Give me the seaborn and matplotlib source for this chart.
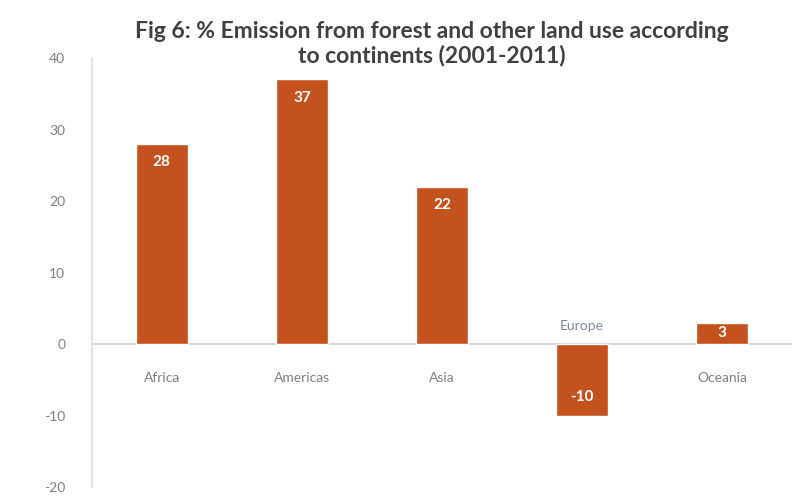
import numpy as np
import pandas as pd
import matplotlib
matplotlib.use('Agg')
import matplotlib.pyplot as plt
import seaborn as sns

continents = ['Africa', 'Americas', 'Asia', 'Europe', 'Oceania']
emission_pct = [28, 37, 22, -10, 3]
y_ticks = [-20, -10, 0, 10, 20, 30, 40]

bar_color = '#C4521F'
text_gray = '#7F7F7F'

sns.set_style('white')
plt.rcParams['font.family'] = ['Lato', 'DejaVu Sans']

df = pd.DataFrame({'continent': continents, 'pct': emission_pct})

fig = plt.figure(figsize=(8.05, 4.96), dpi=100)
ax = fig.add_axes([0.114, 0.018, 0.87, 0.865])

sns.barplot(data=df, x='continent', y='pct', color=bar_color,
            saturation=1, width=0.37, ax=ax, order=continents)

ax.set_ylim(-20, 40)
ax.set_xlim(-0.5, 4.5)
ax.set_yticks(y_ticks)
ax.set_yticklabels([str(t) for t in y_ticks], color=text_gray, fontsize=10)
ax.tick_params(axis='y', length=0, pad=19)
ax.set_xticks([])
ax.set_xlabel('')
ax.set_ylabel('')

for side in ['top', 'right', 'bottom']:
    ax.spines[side].set_visible(False)
ax.spines['left'].set_color('#E3E3E3')
ax.spines['left'].set_linewidth(1.5)
ax.axhline(0, color='#D0D0D0', lw=1.2, zorder=0)

# value labels inside the bar ends, category labels next to axis
for i, (name, v) in enumerate(zip(continents, emission_pct)):
    sign = 1 if v >= 0 else -1
    inset = min(2.6, abs(v) / 2)
    ax.text(i, v - sign * inset, str(v), ha='center', va='center',
            color='white', fontsize=11, fontweight='bold')
    label_y = -4.8 if v >= 0 else 2.5
    ax.text(i, label_y, name, ha='center', va='center',
            color=text_gray if v >= 0 else '#7A8AA0', fontsize=10)

fig.text(0.537, 0.912, 'Fig 6: % Emission from forest and other land use according\nto continents (2001-2011)',
         ha='center', va='center', fontsize=16.5, fontweight='bold',
         color='#404040', linespacing=1.1)

fig.savefig('out.png', dpi=100)
